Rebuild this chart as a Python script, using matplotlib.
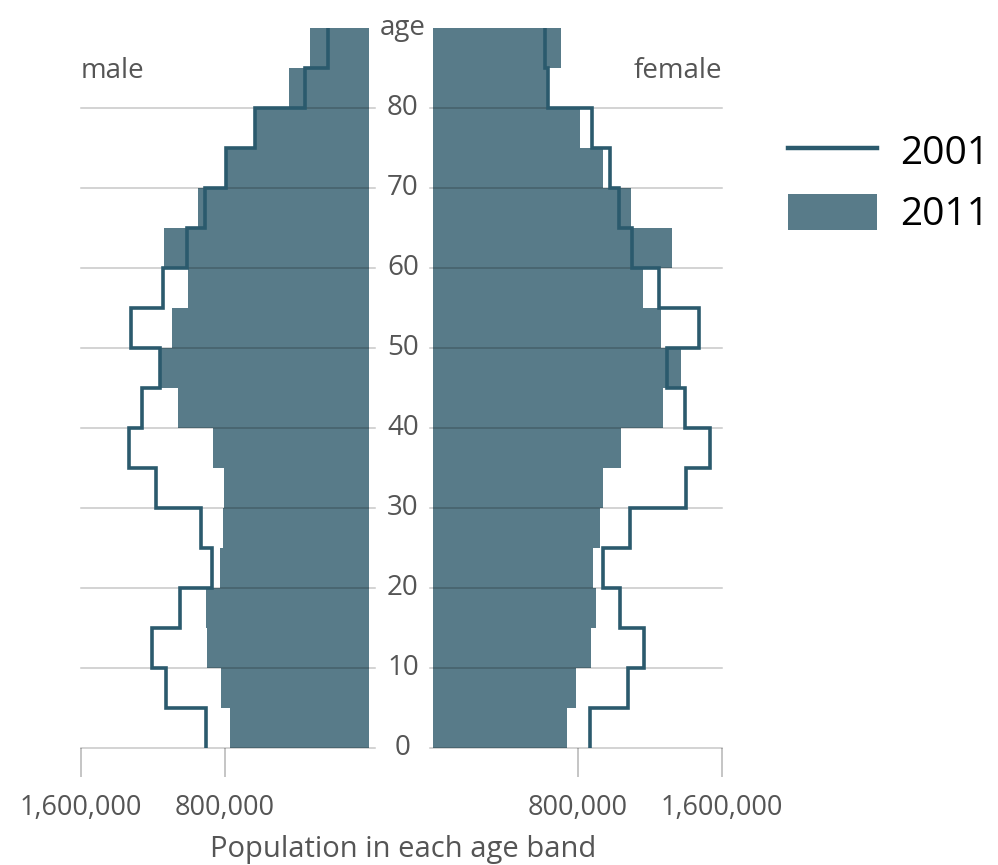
import matplotlib.pyplot as plt
from matplotlib.lines import Line2D
from matplotlib.patches import Patch
from matplotlib.transforms import blended_transform_factory

plt.rcParams['font.family'] = ['Open Sans', 'DejaVu Sans']

# 5-year age bands, bottom (0-4) to top (85-89)
band_edges = list(range(0, 95, 5))
band_mid = [e + 2.5 for e in band_edges[:-1]]

male_2011 = [773e3, 825e3, 898e3, 904e3, 830e3, 811e3, 808e3, 869e3, 1063e3,
             1157e3, 1096e3, 1008e3, 1140e3, 952e3, 792e3, 631e3, 443e3, 327e3]
male_2001 = [904e3, 1129e3, 1203e3, 1052e3, 875e3, 936e3, 1185e3, 1334e3, 1262e3,
             1163e3, 1323e3, 1147e3, 1013e3, 913e3, 792e3, 631e3, 354e3, 227e3]
female_2011 = [744e3, 794e3, 877e3, 905e3, 884e3, 923e3, 939e3, 1043e3, 1272e3,
               1375e3, 1264e3, 1161e3, 1321e3, 1098e3, 939e3, 812e3, 635e3, 711e3]
female_2001 = [867e3, 1080e3, 1166e3, 1034e3, 939e3, 1089e3, 1403e3, 1532e3, 1397e3,
               1294e3, 1471e3, 1250e3, 1104e3, 1028e3, 982e3, 879e3, 635e3, 618e3]

age_ticks = [0, 10, 20, 30, 40, 50, 60, 70, 80, 90]
age_labels = ['0', '10', '20', '30', '40', '50', '60', '70', '80', 'age']
x_ticks = [800000, 1600000]
x_labels = ['800,000', '1,600,000']

fill_col = '#587b89'
line_col = '#2b5a6d'
text_col = '#555555'

W, H = 998, 865
fig = plt.figure(figsize=(W / 100, H / 100), dpi=100)
axL = fig.add_axes([81 / W, 117 / H, 288 / W, 720 / H])
axR = fig.add_axes([433 / W, 117 / H, 289 / W, 720 / H])

for ax, v11, v01 in [(axL, male_2011, male_2001), (axR, female_2011, female_2001)]:
    ax.barh(band_mid, v11, height=5, color=fill_col, linewidth=0, zorder=2)
    ax.stairs(v01, band_edges, orientation='horizontal', baseline=None,
              color=line_col, linewidth=2.6, zorder=4)
    ax.set_ylim(0, 90)
    ax.set_yticks([])
    for s in ax.spines.values():
        s.set_visible(False)
    ax.set_xticks(x_ticks)
    ax.set_xticklabels(x_labels)
    ax.tick_params(axis='x', direction='out', length=21, width=1.1,
                   color='#b5b5b5', labelsize=19.5, labelcolor=text_col, pad=12)

axL.set_xlim(1600000, 0)
axR.set_xlim(0, 1600000)

# horizontal guides every 10 years, drawn over the bars
for age in age_ticks[:-1]:
    axL.axhline(age, xmin=0, xmax=1.022, color='black', alpha=0.22,
                linewidth=1.1, zorder=3, clip_on=False)
    axR.axhline(age, xmin=-0.012, xmax=1.0, color='black', alpha=0.22,
                linewidth=1.1, zorder=3, clip_on=False)

# age labels in the middle gap
tr = blended_transform_factory(fig.transFigure, axL.transData)
for age, lab in zip(age_ticks, age_labels):
    fig.text(403 / W, age, lab, transform=tr, ha='center', va='center',
             fontsize=20, color=text_col)

axL.text(1600000, 84.6, 'male', ha='left', va='center', fontsize=20, color=text_col)
axR.text(1600000, 84.6, 'female', ha='right', va='center', fontsize=20, color=text_col)

fig.text(403 / W, 15 / H, 'Population in each age band', ha='center', va='center',
         fontsize=21, color=text_col)

handles = [Line2D([], [], color=line_col, linewidth=3.2),
           Patch(facecolor=fill_col, edgecolor='none')]
fig.legend(handles, ['2001', '2011'], loc='upper left',
           bbox_to_anchor=(772 / W, 1 - 117 / H), frameon=False,
           fontsize=28, handlelength=2.3, handleheight=1.03,
           handletextpad=0.6, labelspacing=0.56, borderaxespad=0)

fig.savefig('out.png', dpi=100)
